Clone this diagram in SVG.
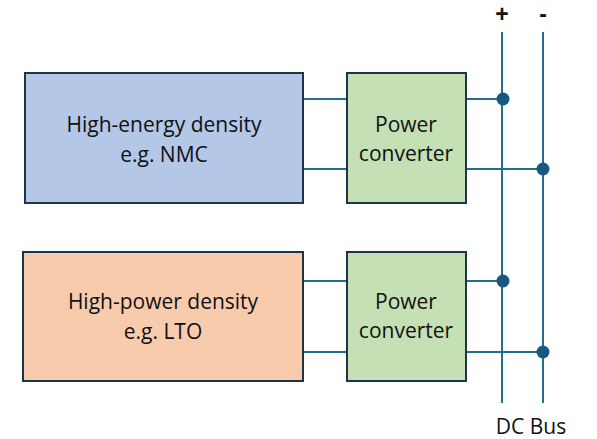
<svg xmlns="http://www.w3.org/2000/svg" width="597" height="439" viewBox="0 0 597 439">
<style>
.box{stroke:#1e3447;stroke-width:2}
.w{stroke:#236d91;stroke-width:2;fill:none}
.dot{fill:#17587f}
text{font-family:"Open Sans","Liberation Sans",sans-serif;font-size:21px;fill:#111;text-anchor:middle}
.sign{font-family:"Liberation Sans",sans-serif;font-size:23px;font-weight:bold}
</style>
<rect width="597" height="439" fill="#fff"/>
<g id="connectors">
<line class="w" x1="502" y1="32" x2="502" y2="403"/>
<line class="w" x1="543" y1="32" x2="543" y2="403"/>
<line class="w" x1="303" y1="99" x2="347" y2="99"/>
<line class="w" x1="303" y1="169" x2="347" y2="169"/>
<line class="w" x1="466" y1="99" x2="502" y2="99"/>
<line class="w" x1="466" y1="169" x2="543" y2="169"/>
<line class="w" x1="303" y1="281" x2="347" y2="281"/>
<line class="w" x1="303" y1="352" x2="347" y2="352"/>
<line class="w" x1="466" y1="281" x2="502" y2="281"/>
<line class="w" x1="466" y1="352" x2="543" y2="352"/>
<circle class="dot" cx="503" cy="99" r="6.5"/>
<circle class="dot" cx="543" cy="169" r="6.5"/>
<circle class="dot" cx="503" cy="281" r="6.5"/>
<circle class="dot" cx="543" cy="352" r="6.5"/>
</g>
<g id="battery1">
<rect class="box" x="25" y="73" width="278" height="130" fill="#b4c7e7"/>
<text x="164" y="132">High-energy density</text>
<text x="164" y="162">e.g. NMC</text>
</g>
<g id="converter1">
<rect class="box" x="347" y="73" width="119" height="130" fill="#c5e0b4"/>
<text x="406" y="132">Power</text>
<text x="406" y="161">converter</text>
</g>
<g id="battery2">
<rect class="box" x="23" y="252" width="280" height="129" fill="#f8cbad"/>
<text x="163" y="309">High-power density</text>
<text x="163" y="339">e.g. LTO</text>
</g>
<g id="converter2">
<rect class="box" x="347" y="252" width="119" height="129" fill="#c5e0b4"/>
<text x="406" y="309">Power</text>
<text x="406" y="338">converter</text>
</g>
<g id="labels">
<text class="sign" x="502" y="22">+</text>
<text class="sign" x="543" y="22">-</text>
<text x="531" y="434">DC Bus</text>
</g>
</svg>
